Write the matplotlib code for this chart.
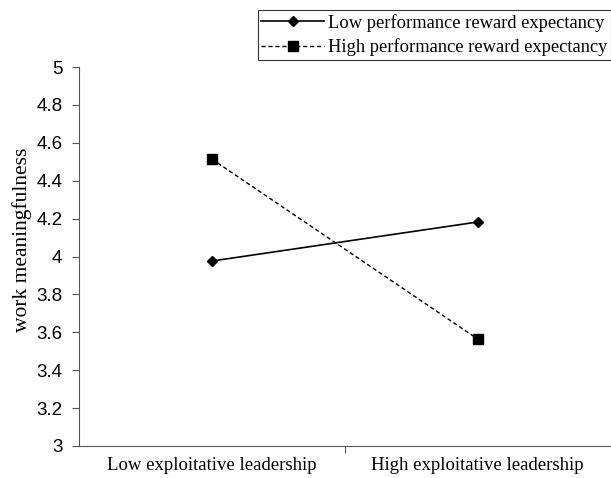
import matplotlib
matplotlib.use('agg')
import matplotlib.pyplot as plt

categories = ['Low exploitative leadership', 'High exploitative leadership']
low_reward = [3.976, 4.182]
high_reward = [4.514, 3.565]
series_names = ['Low performance reward expectancy', 'High performance reward expectancy']
y_ticks = [3, 3.2, 3.4, 3.6, 3.8, 4, 4.2, 4.4, 4.6, 4.8, 5]
y_tick_labels = ['3', '3.2', '3.4', '3.6', '3.8', '4', '4.2', '4.4', '4.6', '4.8', '5']

fig = plt.figure(figsize=(6.11, 4.78), dpi=100)
ax = fig.add_axes([79/611, 1 - 446/478, 1 - 79/611 - 0.001, (446 - 67)/478])

xpos = [0.5, 1.5]
ax.plot(xpos, low_reward, color='black', linestyle='-', linewidth=1.2,
		marker='D', markersize=5, label=series_names[0])
ax.plot(xpos, high_reward, color='black', linestyle=(0, (3, 2)), linewidth=1.0,
		marker='s', markersize=6.5, label=series_names[1])

ax.set_xlim(0, 2)
ax.set_ylim(3, 5)
ax.set_yticks(y_ticks)
ax.set_yticklabels(y_tick_labels, family='Liberation Sans', fontsize=13.5)
ax.set_xticks([1])
ax.set_xticklabels([])
ax.tick_params(axis='x', length=5, direction='out', color='#555555')
ax.tick_params(axis='y', length=5, direction='out', color='#555555', pad=7)
for i, c in enumerate(categories):
	ax.text(xpos[i], -0.03, c, transform=ax.get_xaxis_transform(), ha='center', va='top',
			family='Liberation Serif', fontsize=13.5)

ax.spines['top'].set_visible(False)
ax.spines['right'].set_visible(False)
ax.spines['left'].set_color('#555555')
ax.spines['bottom'].set_color('#555555')

ax.set_ylabel('work meaningfulness', family='Liberation Serif', fontsize=15.5)
ax.yaxis.set_label_coords(-0.089, 0.545)

leg = fig.legend(loc='upper right', bbox_to_anchor=(1.0, 1 - 10/478), frameon=True,
				 fancybox=False, edgecolor='black', handlelength=3.4, handletextpad=0.2,
				 borderpad=0.2, labelspacing=0.38, borderaxespad=0,
				 prop={'family': 'Liberation Serif', 'size': 13.3})
leg.get_frame().set_linewidth(0.8)

fig.savefig('out.png', dpi=100)
